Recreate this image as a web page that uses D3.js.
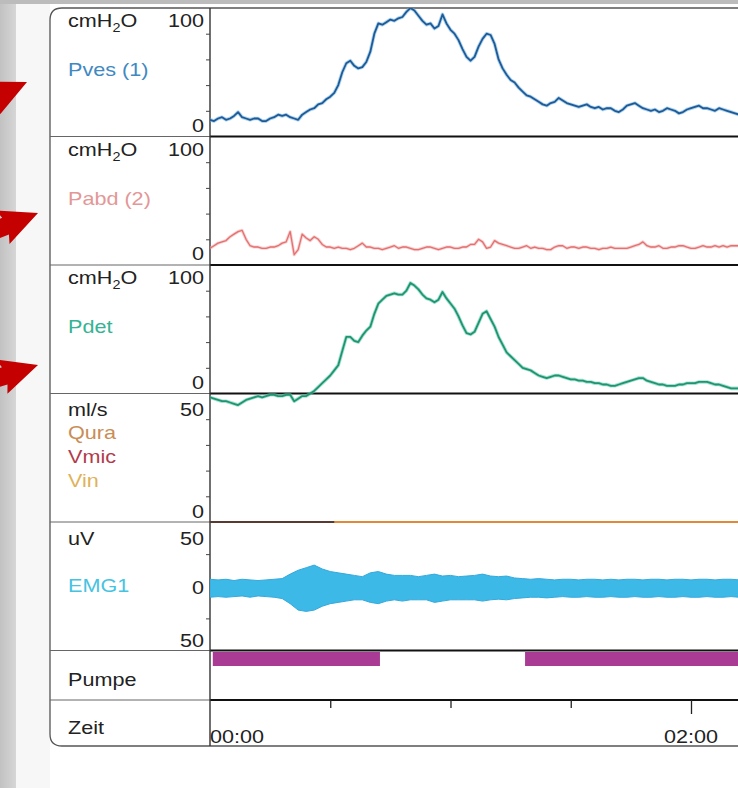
<!DOCTYPE html>
<html>
<head>
<meta charset="utf-8">
<script src="https://cdn.jsdelivr.net/npm/d3@7"></script>
<style>
body{margin:0;background:#fff;}
svg{display:block;font-family:"Liberation Sans",Arial,sans-serif;}
</style>
</head>
<body>
<svg id="chart" width="738" height="788"></svg>
<script>
// pressure samples, one per second
var sampleTimes = d3.range(0, 133, 1);

var pvesValues = [13,12,14,15,13,14,16,19,15,14,
	13,14,14,12,12,14,15,17,16,17,
	15,14,13,17,19,21,22,25,26,29,
	31,34,40,50,57,59,55,53,54,58,
	66,80,88,87,89,91,90,92,93,97,
	100,98,94,90,87,88,84,86,95,88,
	83,80,75,68,62,59,62,70,76,80,
	79,72,60,53,48,44,42,38,35,32,
	31,29,27,25,24,26,27,30,28,26,
	25,24,23,24,25,23,22,23,21,22,
	22,20,19,21,24,25,26,24,22,21,
	20,21,19,20,22,21,20,18,19,21,
	22,23,24,22,22,21,20,22,21,20,19,18,17];

var pabdValues = [13,15,17,18,19,22,24,26,27,20,
	15,14,14,13,13,14,14,15,17,18,
	26,8,12,24,21,19,22,20,16,14,
	14,13,14,13,13,12,13,15,17,14,
	14,13,13,12,13,14,15,13,14,14,
	13,12,12,13,14,14,13,12,13,14,
	14,13,13,14,14,16,16,20,18,13,
	14,19,17,16,15,14,13,13,14,15,
	13,14,13,13,12,12,14,15,15,13,
	14,14,13,14,14,13,13,12,13,13,
	14,13,13,13,13,14,15,16,18,15,
	14,14,15,13,13,14,14,15,15,14,
	13,13,14,15,14,14,15,14,15,14,15,15,15];

var pdetValues = [-3,-4,-5,-6,-6,-7,-8,-9,-7,-5,
	-4,-3,-2,-3,-2,-1,-1,-2,-2,-1,
	-1,-6,-4,-2,-2,0,2,5,8,11,
	14,18,22,33,44,44,41,40,45,49,
	52,62,70,73,76,77,78,77,77,80,
	86,84,81,77,74,73,71,73,79,74,
	70,66,60,53,47,46,48,55,62,64,
	58,52,44,38,32,29,26,23,20,19,
	18,16,14,13,12,13,14,14,13,12,
	11,11,10,10,9,9,8,8,7,7,
	6,6,7,8,9,10,11,12,12,10,
	9,8,7,7,6,6,6,7,7,8,
	8,8,9,9,9,8,7,7,6,5,4,4,4];

// EMG envelope, one pair every 2 s
var emgTimes = d3.range(0, 133, 2);
var emgUpper = [7,6.5,7,6,7,6.5,6,6.5,7,7.5,
	11,14,16,18,15,13,12,11,10,9,
	12,13,11,10,10,10,9,10,11,9.5,
	10,9,9.5,10,11,9.5,9,9.5,8,7.5,
	7,7.5,7,6.5,7,7,6.5,7,7,6.5,
	7,6.5,7,7,6.5,7,7,6.5,7,7,
	6.5,7,7,6.5,7,7,6.5];
var emgLower = [-7,-6.5,-7,-6.5,-6,-7,-6,-6.5,-7,-8,
	-12,-17,-18,-17,-14,-12,-11,-10,-9,-9,
	-11,-12,-10,-9,-10,-9,-9,-9,-11,-10,
	-9,-9,-9,-9,-10,-9,-8.5,-9,-8,-7.5,
	-7,-7,-7.5,-7,-6.5,-7,-7,-6.5,-7,-7,
	-6.5,-7,-7,-6.5,-7,-7,-6.5,-7,-7,-6.5,
	-7,-7,-6.5,-7,-7,-6.5,-7];

var quraTimes = [0, 140];
var quraValues = [0, 0];
var vmicTimes = [0, 31];
var vmicValues = [0, 0];

var pumpOn = [[0.7, 42.4], [78.6, 140]];

var timeMinorTicks = [30, 60, 90];
var timeMajorTicks = [120];
var timeLabels = [[0, "00:00"], [120, "02:00"]];

var pressureTicks = [0, 100];
var flowTicks = [0, 50];
var emgTicks = [[50, "50"], [0, "0"], [-50, "50"]];

var width = 738, height = 788;
var frameLeft = 50, axisLeft = 210, chartRight = 770;
var panelTop = 8, panelHeight = 128.5;
var pumpBottom = 700, frameBottom = 746;
var fontSize = 18, stretch = 1.2;

var svg = d3.select("#chart");
var defs = svg.append("defs");

var edge = defs.append("linearGradient").attr("id", "edge");
edge.append("stop").attr("offset", "0").attr("stop-color", "#c2c2c2");
edge.append("stop").attr("offset", "1").attr("stop-color", "#d6d6d6");

defs.append("clipPath").attr("id", "plotClip")
	.append("rect")
	.attr("x", axisLeft).attr("y", panelTop)
	.attr("width", width - axisLeft).attr("height", frameBottom - panelTop);

// scanned page background
svg.append("rect").attr("width", width).attr("height", height).attr("fill", "#fff");
svg.append("rect").attr("x", 16).attr("y", 0).attr("width", 34).attr("height", height).attr("fill", "#f7f7f7");
svg.append("rect").attr("x", 0).attr("y", 0).attr("width", 16).attr("height", height).attr("fill", "url(#edge)");
svg.append("rect").attr("x", 0).attr("y", 0).attr("width", width).attr("height", 4).attr("fill", "#bcbcbc");

// red arrows pointing at the pressure channels
var arrowTips = [[27, 82, -25], [38, 213, -22], [38, 365, -18]];
var arrowShape = "M0,0 L-38,-18 L-35,-9 L-90,-9 L-90,9 L-35,9 L-38,18 Z";
svg.selectAll(".arrow")
	.data(arrowTips)
	.enter()
		.append("path")
		.attr("class", "arrow")
		.attr("d", arrowShape)
		.attr("fill", "#c40000")
		.attr("transform", function(d){ return "translate(" + d[0] + "," + d[1] + ") rotate(" + d[2] + ")"; });

var x = d3.scaleLinear().domain([0, 120]).range([axisLeft, 691]);

function panelY(i, domain){
	var y0 = panelTop + i * panelHeight;
	return d3.scaleLinear().domain(domain).range([y0 + panelHeight, y0]);
}

var yPves = panelY(0, [0, 100]);
var yPabd = panelY(1, [0, 100]);
var yPdet = panelY(2, [0, 100]);
var yFlow = panelY(3, [0, 50]);
var yEmg = panelY(4, [-50, 50]);

// frame
svg.append("path")
	.attr("d", "M" + chartRight + "," + panelTop + " H" + (frameLeft + 12) + " Q" + frameLeft + "," + panelTop + " " + frameLeft + "," + (panelTop + 12) +
		" V" + (frameBottom - 12) + " Q" + frameLeft + "," + frameBottom + " " + (frameLeft + 12) + "," + frameBottom + " H" + chartRight)
	.attr("fill", "none")
	.attr("stroke", "#555")
	.attr("stroke-width", 1.3);

var separators = [];
for(var i = 1; i <= 5; i++){
	separators.push(panelTop + i * panelHeight);
}
separators.push(pumpBottom);

svg.selectAll(".sepLeft")
	.data(separators)
	.enter()
		.append("line")
		.attr("class", "sepLeft")
		.attr("x1", frameLeft).attr("x2", axisLeft)
		.attr("y1", function(d){ return d; }).attr("y2", function(d){ return d; })
		.attr("stroke", "#666").attr("stroke-width", 1);

svg.selectAll(".sepRight")
	.data(separators)
	.enter()
		.append("line")
		.attr("class", "sepRight")
		.attr("x1", axisLeft).attr("x2", chartRight)
		.attr("y1", function(d){ return d; }).attr("y2", function(d){ return d; })
		.attr("stroke", "#111").attr("stroke-width", 2);

svg.append("line")
	.attr("x1", axisLeft).attr("x2", axisLeft)
	.attr("y1", panelTop).attr("y2", frameBottom)
	.attr("stroke", "#333").attr("stroke-width", 1.4);

// small ticks on the value axes
function minorAxis(scale, values){
	var g = svg.append("g")
		.attr("transform", "translate(" + axisLeft + ",0)")
		.call(d3.axisLeft(scale).tickValues(values).tickSize(4).tickFormat(""));
	g.select(".domain").remove();
	g.selectAll("line").attr("stroke", "#444");
}
minorAxis(yPves, [20, 40, 60, 80]);
minorAxis(yPabd, [20, 40, 60, 80]);
minorAxis(yPdet, [20, 40, 60, 80]);
minorAxis(yFlow, [10, 20, 30, 40]);
minorAxis(yEmg, [-25, 25]);

// time axis
var tg = svg.append("g")
	.attr("transform", "translate(0," + pumpBottom + ")")
	.call(d3.axisBottom(x).tickValues(timeMinorTicks).tickSize(8).tickFormat(""));
tg.select(".domain").remove();
tg.selectAll("line").attr("stroke", "#222").attr("stroke-width", 1.3);
var tg2 = svg.append("g")
	.attr("transform", "translate(0," + pumpBottom + ")")
	.call(d3.axisBottom(x).tickValues(timeMajorTicks).tickSize(14).tickFormat(""));
tg2.select(".domain").remove();
tg2.selectAll("line").attr("stroke", "#222").attr("stroke-width", 1.3);

// text is slightly wider than plain Arial in the printout
function place(xx, yy){
	return "translate(" + xx + "," + yy + ") scale(" + stretch + ",1)";
}

svg.selectAll(".timeLabel")
	.data(timeLabels)
	.enter()
		.append("text")
		.attr("class", "timeLabel")
		.attr("transform", function(d){ return place(x(d[0]), 743); })
		.attr("text-anchor", function(d){ return d[0] === 0 ? "start" : "middle"; })
		.attr("font-size", fontSize)
		.attr("fill", "#222")
		.text(function(d){ return d[1]; });

// channel labels
function label(txt, xx, yy, color){
	return svg.append("text")
		.attr("transform", place(xx, yy))
		.attr("font-size", fontSize)
		.attr("fill", color)
		.text(txt);
}
function unitH2O(yy){
	var t = svg.append("text").attr("transform", place(68, yy)).attr("font-size", fontSize).attr("fill", "#222");
	t.append("tspan").text("cmH");
	t.append("tspan").attr("font-size", 12).attr("dy", 5).text("2");
	t.append("tspan").attr("dy", -5).text("O");
}
function numberLabel(txt, yy){
	svg.append("text")
		.attr("transform", place(204, yy))
		.attr("text-anchor", "end")
		.attr("font-size", fontSize)
		.attr("fill", "#222")
		.text(txt);
}

var pressureNames = [["Pves (1)", "#3f89c2"], ["Pabd (2)", "#e39797"], ["Pdet", "#35b394"]];
for(var p = 0; p < 3; p++){
	var rowTop = panelTop + p * panelHeight;
	unitH2O(rowTop + 19);
	numberLabel(String(pressureTicks[1]), rowTop + 19);
	numberLabel(String(pressureTicks[0]), rowTop + panelHeight - 5);
	label(pressureNames[p][0], 68, rowTop + 68, pressureNames[p][1]);
}

var flowTop = panelTop + 3 * panelHeight;
label("ml/s", 68, flowTop + 22, "#222");
numberLabel(String(flowTicks[1]), flowTop + 22);
numberLabel(String(flowTicks[0]), flowTop + panelHeight - 4);
label("Qura", 68, flowTop + 45, "#c98d55");
label("Vmic", 68, flowTop + 69, "#b23a4c");
label("Vin", 68, flowTop + 93, "#dfb25a");

var emgTop = panelTop + 4 * panelHeight;
label("uV", 68, emgTop + 23, "#222");
label("EMG1", 68, emgTop + 70, "#45c3e2");
numberLabel(emgTicks[0][1], emgTop + 23);
numberLabel(emgTicks[1][1], yEmg(emgTicks[1][0]) + 8);
numberLabel(emgTicks[2][1], emgTop + panelHeight - 4);

label("Pumpe", 68, 686, "#222");
label("Zeit", 68, 734, "#222");

// traces
var plot = svg.append("g").attr("clip-path", "url(#plotClip)");

function pairs(times, values){
	return values.map(function(v, i){ return {t: times[i], v: v}; });
}
function drawLine(data, yScale, color, w, halo){
	var line = d3.line()
		.x(function(d){ return x(d.t); })
		.y(function(d){ return yScale(d.v); });
	if(halo){
		plot.append("path").datum(data)
			.attr("d", line).attr("fill", "none")
			.attr("stroke", halo).attr("stroke-width", w + 1.8)
			.attr("stroke-linejoin", "round").attr("opacity", 0.55);
	}
	plot.append("path").datum(data)
		.attr("d", line).attr("fill", "none")
		.attr("stroke", color).attr("stroke-width", w)
		.attr("stroke-linejoin", "round");
}

var emgData = emgUpper.map(function(u, i){ return {t: emgTimes[i], hi: u, lo: emgLower[i]}; });
plot.append("path").datum(emgData)
	.attr("d", d3.area()
		.x(function(d){ return x(d.t); })
		.y0(function(d){ return yEmg(d.lo); })
		.y1(function(d){ return yEmg(d.hi); }))
	.attr("transform", "translate(0,2)")
	.attr("fill", "#3db9e8")
	.attr("stroke", "#34a9dc")
	.attr("stroke-width", 1);

drawLine(pairs(quraTimes, quraValues), yFlow, "#e0893a", 2);
drawLine(pairs(vmicTimes, vmicValues), yFlow, "#5a3a30", 2);

drawLine(pairs(sampleTimes, pabdValues), yPabd, "#e47070", 1.3, "#f0a8a8");
drawLine(pairs(sampleTimes, pvesValues), yPves, "#1d5a96", 1.8, "#6eaee0");
drawLine(pairs(sampleTimes, pdetValues), yPdet, "#1f9473", 1.8, "#5cc9a6");

plot.selectAll(".pump")
	.data(pumpOn)
	.enter()
		.append("rect")
		.attr("class", "pump")
		.attr("x", function(d){ return x(d[0]); })
		.attr("width", function(d){ return x(d[1]) - x(d[0]); })
		.attr("y", 652)
		.attr("height", 14)
		.attr("fill", "#aa3b94");
</script>
</body>
</html>
